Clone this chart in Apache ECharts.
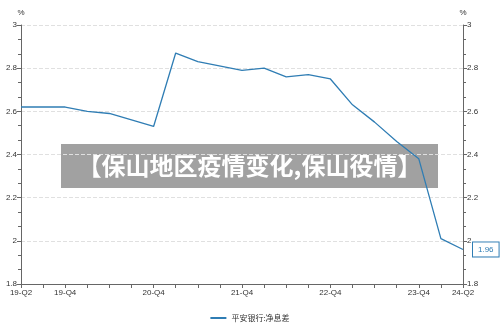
<!DOCTYPE html>
<html>
<head>
<meta charset="utf-8">
<script src="https://cdn.jsdelivr.net/npm/echarts@6/dist/echarts.min.js"></script>
<style>html,body{margin:0;padding:0;background:#fff}#c{width:500px;height:333px}</style>
</head>
<body>
<div id="c"></div>
<script>
var categories = ['19-Q2','19-Q3','19-Q4','20-Q1','20-Q2','20-Q3','20-Q4','21-Q1','21-Q2','21-Q3','21-Q4','22-Q1','22-Q2','22-Q3','22-Q4','23-Q1','23-Q2','23-Q3','23-Q4','24-Q1','24-Q2'];
var nimValues = [2.62, null, 2.62, 2.60, 2.59, null, 2.53, 2.87, 2.83, null, 2.79, 2.80, 2.76, 2.77, 2.75, 2.63, 2.55, 2.46, 2.38, 2.01, 1.96];
var shownLabels = ['19-Q2','19-Q4','20-Q4','21-Q4','22-Q4','23-Q4','24-Q2'];
var seriesName = '平安银行:净息差';
var watermark = '【保山地区疫情变化,保山役情】';

var chart = echarts.init(document.getElementById('c'), null, {renderer: 'canvas'});
var font = 'Liberation Sans, Arial, sans-serif';
var lineColor = '#2f7db4';
var yAxisCommon = {
  type: 'value', min: 1.8, max: 3, interval: 0.2,
  name: '%', nameGap: 8,
  nameTextStyle: {fontSize: 8, color: '#333', fontFamily: font},
  axisLine: {show: true, lineStyle: {color: '#666'}},
  axisTick: {show: true, length: 4, lineStyle: {color: '#666'}},
  minorTick: {show: true, splitNumber: 3, length: 3, lineStyle: {color: '#666'}},
  splitLine: {show: true, lineStyle: {color: '#e0e0e0', type: 'dashed'}},
  axisLabel: {fontSize: 8, color: '#333', fontFamily: font, margin: 4}
};
chart.setOption({
  animation: false,
  backgroundColor: '#fff',
  grid: {left: 21, right: 37, top: 25, bottom: 49, containLabel: false},
  legend: {
    bottom: 6, left: 'center', itemWidth: 16, itemHeight: 2, icon: 'rect',
    textStyle: {fontSize: 8, color: '#333', fontFamily: 'Noto Sans CJK SC'},
    data: [seriesName]
  },
  xAxis: {
    type: 'category', data: categories, boundaryGap: false,
    axisLine: {lineStyle: {color: '#666'}},
    axisTick: {show: true, interval: 0, length: 4, lineStyle: {color: '#666'}},
    axisLabel: {
      fontSize: 8, color: '#333', fontFamily: font, margin: 5,
      interval: function (i, v) { return shownLabels.indexOf(v) >= 0; }
    }
  },
  yAxis: [
    Object.assign({}, yAxisCommon, {position: 'left', nameTextStyle: {fontSize: 8, color: '#333', fontFamily: font, align: 'center'}}),
    Object.assign({}, yAxisCommon, {position: 'right', splitLine: {show: false}, nameTextStyle: {fontSize: 8, color: '#333', fontFamily: font, align: 'center'}})
  ],
  series: [{
    name: seriesName, type: 'line', data: nimValues, connectNulls: true,
    showSymbol: false, symbol: 'none',
    lineStyle: {color: lineColor, width: 1.3},
    itemStyle: {color: lineColor},
    endLabel: {
      show: true, formatter: function (p) { return p.value; },
      color: lineColor, fontSize: 8, fontFamily: font,
      backgroundColor: '#fff', borderColor: lineColor, borderWidth: 1,
      padding: [3, 5], distance: 10
    }
  }],
  graphic: [{
    type: 'group', z: 100,
    children: [
      {type: 'rect', shape: {x: 61, y: 144, width: 377, height: 44}, style: {fill: 'rgba(0,0,0,0.37)'}},
      {type: 'text', x: 249.5, y: 166, style: {text: watermark, fill: '#fff', font: 'bold 24px "Noto Sans CJK SC"', textAlign: 'center', textVerticalAlign: 'middle'}}
    ]
  }]
});
</script>
</body>
</html>
